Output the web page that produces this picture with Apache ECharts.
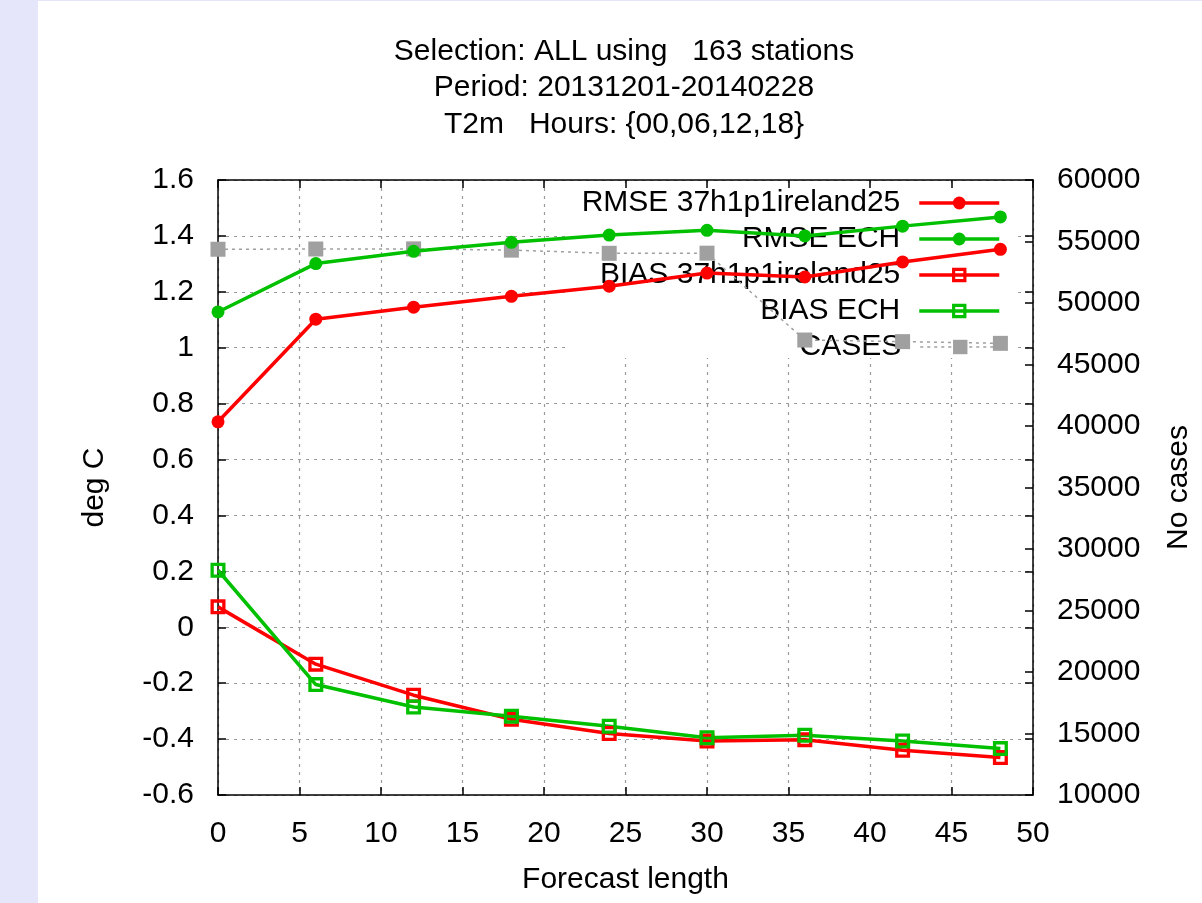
<!DOCTYPE html>
<html>
<head>
<meta charset="utf-8">
<script src="https://cdn.jsdelivr.net/npm/echarts@6/dist/echarts.min.js"></script>
<style>
html, body { margin: 0; padding: 0; background: #e6e6fa; }
#chart { position: absolute; left: 38px; top: 1px; width: 1164px; height: 902px; background: #fff; }
</style>
</head>
<body>
<div id="chart"></div>
<script>
// forecast lengths (hours)
var hours = [0, 6, 12, 18, 24, 30, 36, 42, 48];
var rmseIreland = [0.735, 1.102, 1.145, 1.184, 1.220, 1.267, 1.253, 1.307, 1.352];
var rmseEch = [1.128, 1.301, 1.345, 1.377, 1.403, 1.420, 1.400, 1.435, 1.468];
var biasIreland = [0.073, -0.132, -0.243, -0.329, -0.380, -0.407, -0.402, -0.440, -0.466];
var biasEch = [0.204, -0.205, -0.285, -0.318, -0.354, -0.395, -0.386, -0.407, -0.434];
var cases = [54370, 54390, 54400, 54300, 54040, 54050, 46990, 46860, 46720];
var seriesNames = ["RMSE 37h1p1ireland25", "RMSE ECH", "BIAS 37h1p1ireland25", "BIAS ECH", "CASES"];
var titleLines = ["Selection: ALL using   163 stations", "Period: 20131201-20140228", "T2m   Hours: {00,06,12,18}"];

var FONT = "Liberation Sans";
var FS = 30;
var RED = "#ff0000", GREEN = "#00c000", GRAY = "#a0a0a0";
var hollowSquare = "path://M0,0H10V10H0ZM2.2,2.2V7.8H7.8V2.2Z";

function pairs(vals) {
  return hours.map(function (h, i) { return [h, vals[i]]; });
}

var chart = echarts.init(document.getElementById("chart"));

var legendCenters = [203, 239, 275, 311, 347];
var legendHeights = [16, 16, 18, 18, 18];
var legendWidths = [3.5, 3.5, 3.5, 3.5, 1.5];
var legends = seriesNames.map(function (name, i) {
  return {
    data: [name],
    orient: "vertical",
    right: 201,
    top: legendCenters[i] - 1 - 16,
    align: "right",
    padding: 0,
    z: 1.5,
    itemWidth: 80,
    itemHeight: legendHeights[i],
    selectedMode: false,
    lineStyle: { width: legendWidths[i] },
    textStyle: { fontFamily: FONT, fontSize: FS, color: "#000", lineHeight: 32, padding: [0, 14, 0, 0] }
  };
});

function lineSeries(name, vals, color, symbol, size) {
  return {
    name: name,
    type: "line",
    data: pairs(vals),
    symbol: symbol,
    symbolSize: size,
    showAllSymbol: true,
    z: 2,
    lineStyle: { color: color, width: 3.5 },
    itemStyle: { color: color }
  };
}

var gridDash = { show: true, lineStyle: { color: "#999", width: 1.2, type: [3, 5] } };
var axisBlack = { show: true, onZero: false, lineStyle: { color: "#000", width: 1.5 } };
var tickIn = { show: true, inside: true, length: 8, lineStyle: { color: "#000", width: 1.5 } };
var labelStyle = { fontFamily: FONT, fontSize: FS, color: "#000" };

chart.setOption({
  animation: false,
  title: {
    text: titleLines.join("\n"),
    left: 586,
    top: 32,
    textAlign: "center",
    padding: 0,
    textStyle: { fontFamily: FONT, fontSize: FS, fontWeight: "normal", color: "#000", lineHeight: 36.5 }
  },
  legend: legends,
  grid: { left: 180, right: 168, top: 179, bottom: 108 },
  graphic: [{
    type: "rect",
    z: 1,
    shape: { x: 527, y: 182, width: 450, height: 175 },
    style: { fill: "#fff" }
  }],
  xAxis: [{
    type: "value",
    min: 0, max: 50, interval: 5,
    name: "Forecast length",
    nameLocation: "middle",
    nameGap: 70,
    nameTextStyle: labelStyle,
    axisLine: axisBlack,
    axisTick: tickIn,
    axisLabel: { fontFamily: FONT, fontSize: FS, color: "#000", margin: 24 },
    splitLine: gridDash
  }, {
    type: "value",
    position: "top",
    min: 0, max: 50, interval: 5,
    z: 3,
    axisLine: axisBlack,
    axisTick: tickIn,
    axisLabel: { show: false },
    splitLine: { show: false }
  }],
  yAxis: [{
    type: "value",
    min: -0.6, max: 1.6, interval: 0.2,
    name: "deg C",
    nameLocation: "middle",
    nameRotate: 90,
    nameGap: 108,
    nameTextStyle: labelStyle,
    axisLine: axisBlack,
    axisTick: tickIn,
    axisLabel: { fontFamily: FONT, fontSize: FS, color: "#000", margin: 24 },
    splitLine: gridDash
  }, {
    type: "value",
    position: "right",
    min: 10000, max: 60000, interval: 5000,
    z: 3,
    name: "No cases",
    nameLocation: "middle",
    nameRotate: 90,
    nameGap: 131,
    nameTextStyle: labelStyle,
    axisLine: axisBlack,
    axisTick: tickIn,
    axisLabel: {
      fontFamily: FONT, fontSize: FS, color: "#000", margin: 24,
      formatter: function (v) { return String(v); }
    },
    splitLine: { show: false }
  }, {
    type: "value",
    position: "right",
    min: -0.6, max: 1.6, interval: 0.2,
    z: 3,
    axisLine: { show: false, onZero: false },
    axisTick: tickIn,
    axisLabel: { show: false },
    splitLine: { show: false }
  }],
  series: [
    lineSeries(seriesNames[0], rmseIreland, RED, "circle", 13),
    lineSeries(seriesNames[1], rmseEch, GREEN, "circle", 13),
    lineSeries(seriesNames[2], biasIreland, RED, hollowSquare, 15),
    lineSeries(seriesNames[3], biasEch, GREEN, hollowSquare, 15),
    {
      name: seriesNames[4],
      type: "line",
      yAxisIndex: 1,
      data: pairs(cases),
      symbol: "rect",
      symbolSize: 15,
      z: 1.8,
      lineStyle: { color: GRAY, width: 1.5, type: [3, 4] },
      itemStyle: { color: GRAY }
    }
  ]
});
</script>
</body>
</html>
